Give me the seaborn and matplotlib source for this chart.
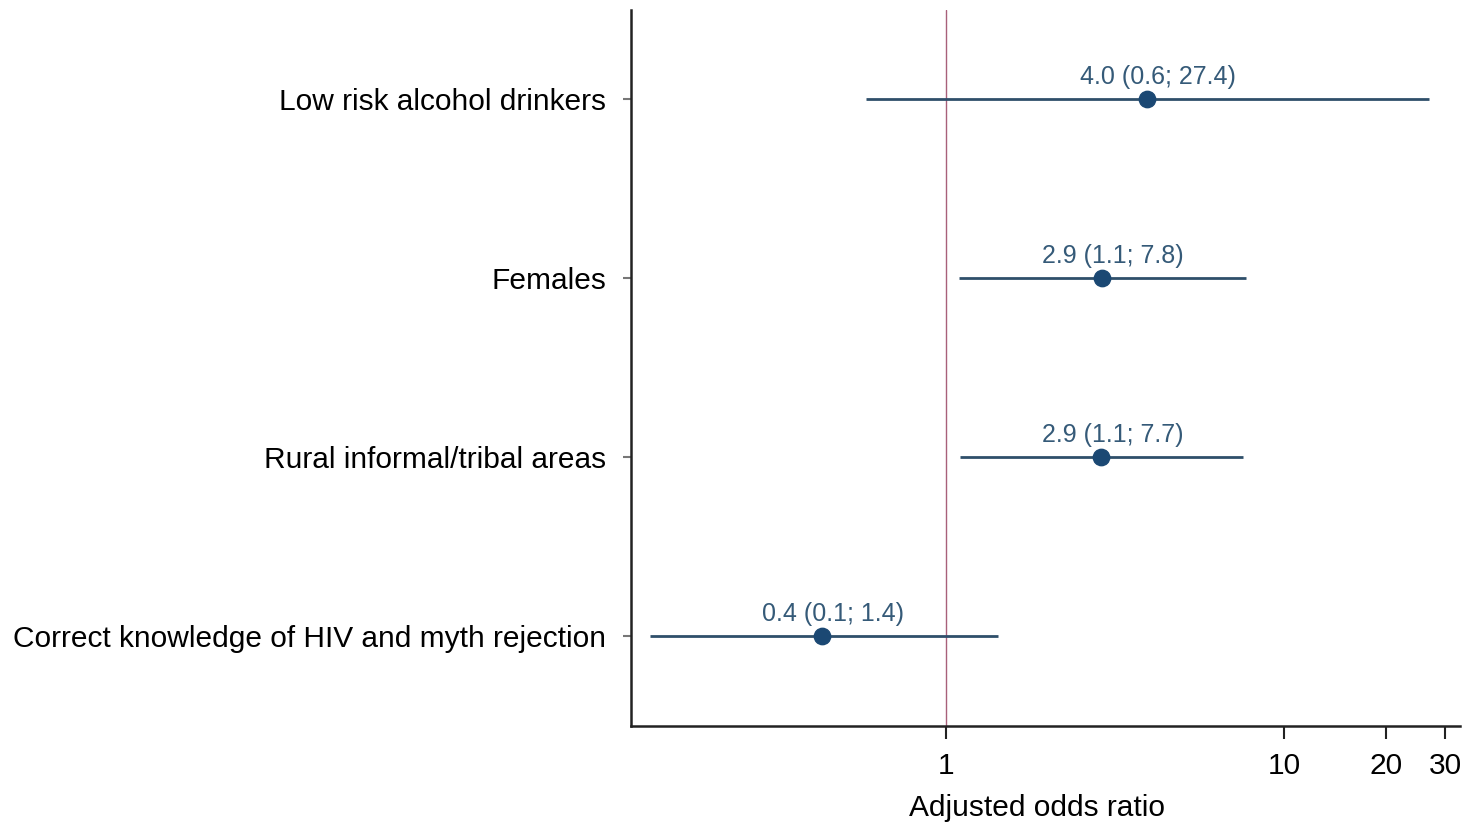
import pandas as pd
import numpy as np
import seaborn as sns
import matplotlib.pyplot as plt
from matplotlib.ticker import FixedLocator, NullLocator

# Forest plot of adjusted odds ratios
factors = ['Low risk alcohol drinkers', 'Females', 'Rural informal/tribal areas',
           'Correct knowledge of HIV and myth rejection']
aor = [3.93, 2.89, 2.88, 0.43]
ci_low = [0.58, 1.09, 1.10, 0.133]
ci_high = [26.8, 7.72, 7.56, 1.43]
labels = ['4.0 (0.6; 27.4)', '2.9 (1.1; 7.8)', '2.9 (1.1; 7.7)', '0.4 (0.1; 1.4)']
xticks = [1, 10, 20, 30]

df = pd.DataFrame({'factor': factors, 'aor': aor, 'lo': ci_low, 'hi': ci_high, 'label': labels})
df['pos'] = range(len(df))

sns.set_style('ticks')
plt.rcParams['font.family'] = ['Liberation Sans', 'DejaVu Sans']

fig = plt.figure(figsize=(14.79, 8.23), dpi=100)
ax = fig.add_axes([0.4266, 0.1179, 0.5606, 0.8700])

line_col = '#2f4f6a'
pt_col = '#1b4873'

ax.axvline(1, color='#a8607a', lw=1.0, zorder=1)
ax.hlines(df['pos'], df['lo'], df['hi'], color=line_col, lw=2, zorder=2)
sns.scatterplot(data=df, x='aor', y='pos', ax=ax, color=pt_col, s=140,
                edgecolor=pt_col, zorder=3, legend=False)

for _, r in df.iterrows():
    ax.annotate(r['label'], (r['aor'], r['pos']), xytext=(8, 16), textcoords='offset points',
                ha='center', va='center', fontsize=18, color='#355a78')

ax.set_xscale('log')
ax.set_xlim(0.117, 33.2)
ax.set_ylim(3.5, -0.5)
ax.xaxis.set_major_locator(FixedLocator(xticks))
ax.xaxis.set_minor_locator(NullLocator())
ax.set_xticklabels([str(t) for t in xticks], fontsize=21.5, color='black')
ax.set_yticks(df['pos'])
# labels sit slightly above their tick in the original
ax.set_yticklabels(df['factor'], fontsize=21.5, color='black', va='center_baseline')
ax.tick_params(axis='x', length=9, width=1.5, pad=10, color='#222222')
ax.tick_params(axis='y', length=6, width=1.5, pad=12, color='#777777')
ax.set_xlabel('Adjusted odds ratio', fontsize=21.5, labelpad=10, color='black')
ax.xaxis.label.set_x(0.49)
ax.set_ylabel('')

sns.despine(ax=ax)
for s in ['left', 'bottom']:
    ax.spines[s].set_linewidth(1.8)
    ax.spines[s].set_color('#222222')

fig.savefig('out.png', dpi=100)
